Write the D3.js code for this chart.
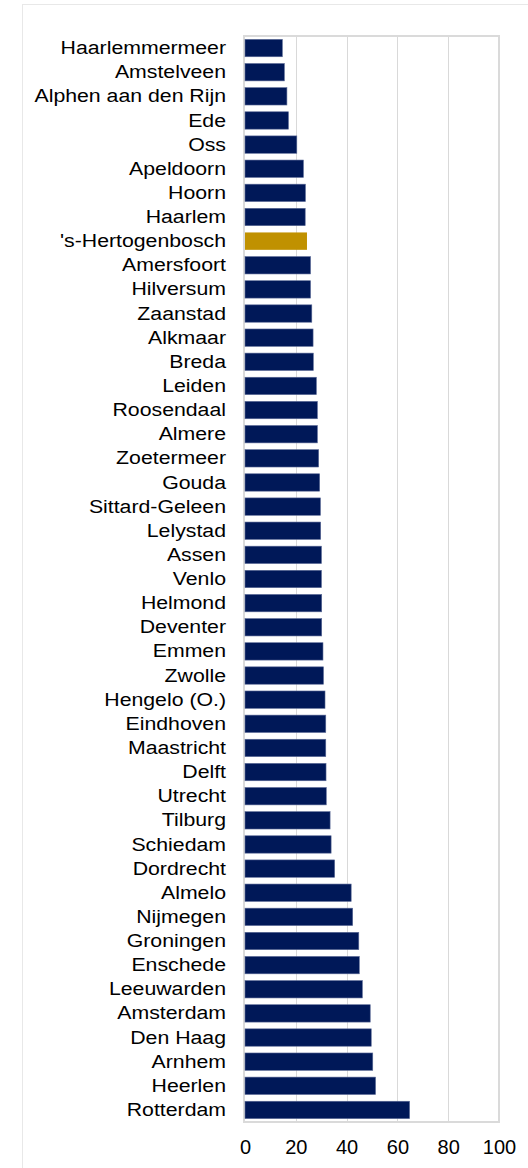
<!DOCTYPE html>
<html>
<head>
<meta charset="utf-8">
<script src="https://cdn.jsdelivr.net/npm/d3@7"></script>
<style>
  html, body { margin: 0; padding: 0; background: #fff; }
  svg { display: block; }
  text { font-family: "Liberation Sans", Arial, sans-serif; fill: #000; }
</style>
</head>
<body>
<svg id="chart" width="528" height="1168"></svg>
<script>
const categories = ["Haarlemmermeer","Amstelveen","Alphen aan den Rijn","Ede","Oss","Apeldoorn","Hoorn","Haarlem","'s-Hertogenbosch","Amersfoort","Hilversum","Zaanstad","Alkmaar","Breda","Leiden","Roosendaal","Almere","Zoetermeer","Gouda","Sittard-Geleen","Lelystad","Assen","Venlo","Helmond","Deventer","Emmen","Zwolle","Hengelo (O.)","Eindhoven","Maastricht","Delft","Utrecht","Tilburg","Schiedam","Dordrecht","Almelo","Nijmegen","Groningen","Enschede","Leeuwarden","Amsterdam","Den Haag","Arnhem","Heerlen","Rotterdam"];
const values = [14.7,15.5,16.5,17.1,20.4,23.0,23.8,23.7,24.4,25.8,25.8,26.3,26.8,26.9,28.1,28.5,28.5,29.0,29.4,29.7,29.8,30.1,30.1,30.2,30.2,30.7,30.9,31.5,31.8,31.8,31.9,32.0,33.5,33.9,35.3,41.8,42.4,44.8,45.0,46.2,49.3,49.7,50.3,51.4,64.8];
const highlight = ["'s-Hertogenbosch"];
const tickValues = [0,20,40,60,80,100];

const data = categories.map((c,i)=>({name:c, value:values[i]}));
const svg = d3.select("#chart");

const plot = {left:245, right:499, top:36, bottom:1122};
const x = d3.scaleLinear().domain([0,100]).range([plot.left, plot.right]);
const y = d3.scaleBand().domain(categories).range([plot.top, plot.bottom]).paddingInner(0.28).paddingOuter(0.14);

// outer frame
svg.append("rect").attr("x",22.5).attr("y",4.5).attr("width",620).attr("height",1200)
  .attr("fill","none").attr("stroke","#e8e8e8").attr("stroke-width",1);

// grid lines
svg.append("g").selectAll("line").data(tickValues.slice(1,-1)).join("line")
  .attr("x1",d=>Math.round(x(d))+0.5).attr("x2",d=>Math.round(x(d))+0.5)
  .attr("y1",plot.top).attr("y2",plot.bottom)
  .attr("stroke","#d9d9d9").attr("stroke-width",1);

// plot border
svg.append("rect").attr("x",plot.left-1).attr("y",plot.top).attr("width",plot.right-plot.left+1).attr("height",plot.bottom-plot.top)
  .attr("fill","none").attr("stroke","#dadada").attr("stroke-width",2);

// bars
svg.append("g").selectAll("rect").data(data).join("rect")
  .attr("x",x(0)).attr("y",d=>y(d.name))
  .attr("width",d=>x(d.value)-x(0)).attr("height",y.bandwidth())
  .attr("fill",d=>highlight.includes(d.name)?"#c09100":"#001858")
  .attr("stroke",d=>highlight.includes(d.name)?"none":"#5a6a96").attr("stroke-width",0.6);

// y axis labels
const yAxis = d3.axisLeft(y).tickSize(0).tickPadding(19);
const gy = svg.append("g").attr("transform",`translate(${plot.left},0)`).call(yAxis);
gy.select(".domain").remove();
gy.selectAll("text").style("font-size","19px").attr("font-family","Liberation Sans, Arial, sans-serif").attr("fill","#000")
  .attr("x",0).attr("transform","translate(-19,0) scale(1.12,1)");

// x axis labels
const xAxis = d3.axisBottom(x).tickValues(tickValues).tickSize(0).tickPadding(18).tickFormat(d3.format("d"));
const gx = svg.append("g").attr("transform",`translate(0,${plot.bottom})`).call(xAxis);
gx.select(".domain").remove();
gx.selectAll("text").style("font-size","20px").attr("font-family","Liberation Sans, Arial, sans-serif").attr("fill","#000");
</script>
</body>
</html>
